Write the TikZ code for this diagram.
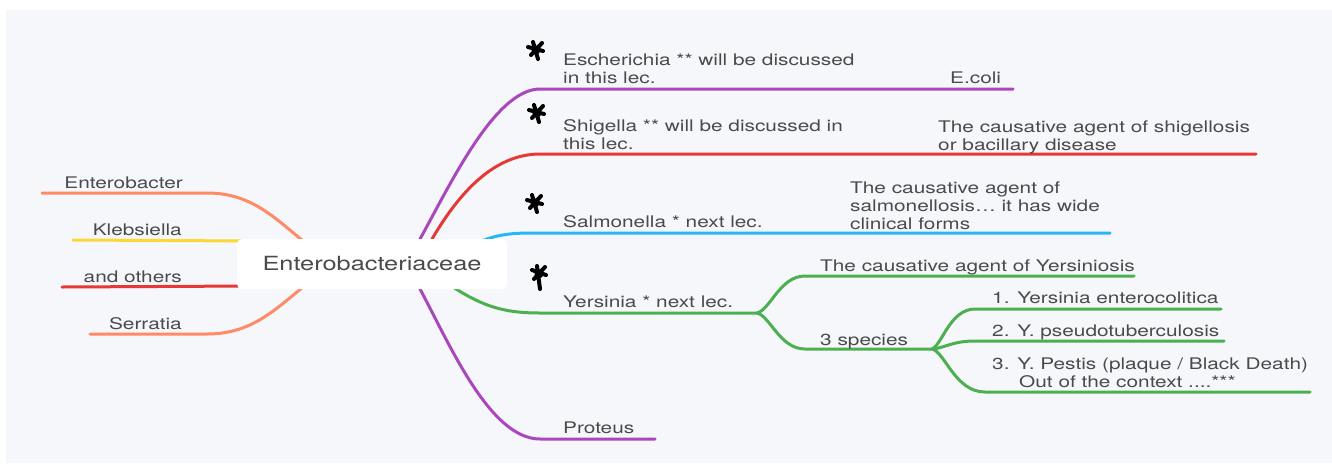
\documentclass[tikz,border=0pt]{standalone}
\usepackage{fontspec}
\setmainfont{TeX Gyre Heros}[FakeStretch=1.3]
\definecolor{panel}{HTML}{F5F7FB}
\definecolor{txt}{HTML}{4A4A4A}
\definecolor{cpurple}{HTML}{AB47BC}
\definecolor{cred}{HTML}{E53935}
\definecolor{cblue}{HTML}{29B6F6}
\definecolor{cgreen}{HTML}{4CAF50}
\definecolor{corange}{HTML}{FF8A65}
\definecolor{cyellow}{HTML}{FDD835}
% left-aligned block of lines whose baseline is that of its first line
\newcommand\lstack[1]{\vtop{\halign{##\hfil\cr#1\crcr}}}
\tikzset{
  lbl/.style={inner sep=0pt, text=txt, font=\fontsize{16}{18}\selectfont},
  br/.style={line width=3pt, line cap=round},
  rootbox/.style={rectangle, rounded corners=5pt, fill=white, minimum width=270pt,
    minimum height=50pt, inner sep=0pt, text=txt, font=\fontsize{19.5}{22}\selectfont},
  scribble/.pic={
    \fill[black] (0,0) circle (4.5);
    \draw[black, line width=4pt, line cap=round]
      (-8,-3) -- (7,1) (-3,-8) -- (2,9) (6,-7) -- (-5,5);
  },
  scribbletail/.pic={
    \fill[black] (0,-3) circle (4.5);
    \draw[black, line width=4pt, line cap=round]
      (-7,-7) -- (7,-2) (-2,-11) -- (1,12) (6,-10) -- (-5,2);
  }
}
\begin{document}
\begin{tikzpicture}[x=1pt,y=-1pt]
\useasboundingbox (0,0) rectangle (1332,464);
\fill[white] (0,0) rectangle (1332,464);
\fill[panel] (6,10) rectangle (1332,463);

% ---- anchor points of the branch lines ----
% left side
\coordinate (entbA) at (42,193);   \coordinate (entbB) at (207,193);  \coordinate (entbC) at (312,248);
\coordinate (klebA) at (73,240);   \coordinate (klebB) at (250,241);
\coordinate (othA)  at (62,287);   \coordinate (othB)  at (250,286);
\coordinate (serrA) at (90,334);   \coordinate (serrB) at (207,334);  \coordinate (serrC) at (312,280);
% right side, first level
\coordinate (eschS) at (420,239);  \coordinate (eschA) at (540,89);   \coordinate (eschB) at (1013,89);
\coordinate (shigS) at (432,239);  \coordinate (shigA) at (540,154);  \coordinate (shigB) at (1256,154);
\coordinate (salmS) at (470,246);  \coordinate (salmA) at (535,233);  \coordinate (salmB) at (1110,233);
\coordinate (yersS) at (445,282);  \coordinate (yersA) at (540,313);  \coordinate (yj)    at (757,313);
\coordinate (protS) at (420,289);  \coordinate (protA) at (540,439);  \coordinate (protB) at (655,439);
% Yersinia sub-branches
\coordinate (ydA) at (805,276);    \coordinate (ydB) at (1134,276);
\coordinate (spA) at (805,349);    \coordinate (sj)  at (932,349);
\coordinate (s1A) at (975,309);    \coordinate (s1B) at (1221,309);
\coordinate (s2A) at (975,341);    \coordinate (s2B) at (1224,341);
\coordinate (s3A) at (985,392);    \coordinate (s3B) at (1310,392);

% ---- branch lines ----
\draw[br, corange] (entbA) -- (entbB) .. controls (255,193) and (278,222) .. (entbC);
\draw[br, cyellow] (klebA) -- (klebB);
\draw[br, cred]    (othA) -- (othB);
\draw[br, corange] (serrA) -- (serrB) .. controls (255,334) and (278,306) .. (serrC);

\draw[br, cpurple] (eschS) .. controls (450,185) and (495,89) .. (eschA) -- (eschB);
\draw[br, cred]    (shigS) .. controls (455,200) and (490,154) .. (shigA) -- (shigB);
\draw[br, cblue]   (salmS) .. controls (495,234) and (510,233) .. (salmA) -- (salmB);
\draw[br, cgreen]  (yersS) .. controls (480,305) and (500,313) .. (yersA) -- (yj);
\draw[br, cpurple] (protS) .. controls (450,345) and (490,439) .. (protA) -- (protB);

\draw[br, cgreen] (yj) .. controls (770,310) and (780,276) .. (ydA) -- (ydB);
\draw[br, cgreen] (yj) .. controls (770,316) and (780,349) .. (spA) -- (sj);
\draw[br, cgreen] (sj) .. controls (942,345) and (950,309) .. (s1A) -- (s1B);
\draw[br, cgreen] (sj) .. controls (945,348) and (952,341) .. (s2A) -- (s2B);
\draw[br, cgreen] (sj) .. controls (945,352) and (955,392) .. (s3A) -- (s3B);

% ---- central topic ----
\node[rootbox] (cent) at (372,264) {Enterobacteriaceae};

% ---- labels ----
\node[lbl, anchor=base east] (entb) at (183,188) {Enterobacter};
\node[lbl, anchor=base east] (kleb) at (182,235) {Klebsiella};
\node[lbl, anchor=base east] (oth)  at (182,282) {and others};
\node[lbl, anchor=base east] (serr) at (182,329) {Serratia};

\node[lbl, anchor=base west] (esch)  at (563,65)  {\lstack{Escherichia ** will be discussed\cr in this lec.}};
\node[lbl, anchor=base west] (ecoli) at (950,83)  {E.coli};
\node[lbl, anchor=base west] (shig)  at (563,131) {\lstack{Shigella ** will be discussed in\cr this lec.}};
\node[lbl, anchor=base west] (shigd) at (938,132) {\lstack{The causative agent of shigellosis\cr or bacillary disease}};
\node[lbl, anchor=base west] (salm)  at (563,227) {Salmonella * next lec.};
\node[lbl, anchor=base west] (salmd) at (850,193) {\lstack{The causative agent of\cr salmonellosis\ldots\ it has wide\cr clinical forms}};
\node[lbl, anchor=base west] (yers)  at (563,307) {Yersinia * next lec.};
\node[lbl, anchor=base west] (yersd) at (820,271) {The causative agent of Yersiniosis};
\node[lbl, anchor=base west] (spec)  at (820,345) {3 species};
\node[lbl, anchor=base west] (sp1)   at (992,303) {1. Yersinia enterocolitica};
\node[lbl, anchor=base west] (sp2)   at (992,336) {2. Y. pseudotuberculosis};
\node[lbl, anchor=base west] (sp3)   at (992,369) {\lstack{3. Y. Pestis (plaque / Black Death)\cr \hskip27pt Out of the context ....***}};
\node[lbl, anchor=base west] (prot)  at (563,433) {Proteus};

% ---- hand-drawn asterisks ----
\pic at (536,50)  {scribble};
\pic at (537,113) {scribble};
\pic at (535,203) {scribble};
\pic at (539,277) {scribbletail};
\end{tikzpicture}
\end{document}
